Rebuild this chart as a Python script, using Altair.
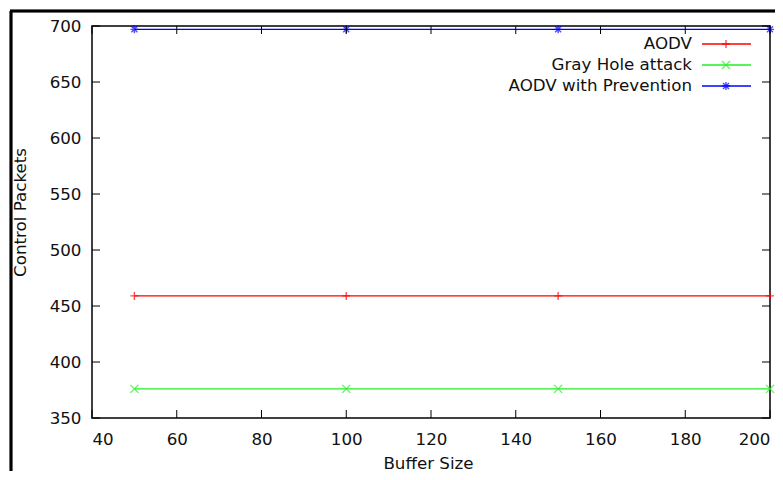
import altair as alt
import pandas as pd

buffer_sizes = [50, 100, 150, 200]
series_names = ["AODV", "Gray Hole attack", "AODV with Prevention"]
aodv = [459, 459, 459, 459]
gray_hole = [376, 376, 376, 376]
prevention = [697, 697, 697, 697]

x_ticks = [40, 60, 80, 100, 120, 140, 160, 180, 200]
y_ticks = [350, 400, 450, 500, 550, 600, 650, 700]

colors = ["#ff0000", "#22ee22", "#0000ff"]
shapes = [
    "M-1,0L1,0M0,-1L0,1",
    "M-1,-1L1,1M-1,1L1,-1",
    "M-1,0L1,0M0,-1L0,1M-0.75,-0.75L0.75,0.75M-0.75,0.75L0.75,-0.75",
]

W, H = 678, 392
PAD_B = 53
PAD_R = 5
FONT = "DejaVu Sans"
FS = 16.7

rows = []
for name, vals in zip(series_names, [aodv, gray_hole, prevention]):
    for b, v in zip(buffer_sizes, vals):
        rows.append({"Buffer Size": b, "Control Packets": v, "series": name})
df = pd.DataFrame(rows)

color_scale = alt.Scale(domain=series_names, range=colors)
shape_scale = alt.Scale(domain=series_names, range=shapes)

xs = alt.Scale(domain=[40, 200], nice=False, zero=False)
ys = alt.Scale(domain=[350, 700], nice=False, zero=False)

base = alt.Chart(df).encode(
    x=alt.X("Buffer Size:Q", scale=xs,
            axis=alt.Axis(values=x_ticks, title="Buffer Size", titleX=W / 2 - 3, titleY=45,
                          titleBaseline="middle", labelPadding=13, ticks=False, tickSize=0,
                          domain=False, grid=False)),
    y=alt.Y("Control Packets:Q", scale=ys,
            axis=alt.Axis(values=y_ticks, title="Control Packets", titleX=-72, titleY=H / 2 - 10,
                          titleBaseline="middle", titleAngle=-90, labelPadding=11, ticks=False,
                          tickSize=0, domain=False, grid=False)),
    color=alt.Color("series:N", scale=color_scale, legend=None),
)

lines = base.mark_line(strokeWidth=1.4)
points = base.mark_point(filled=False, size=64, strokeWidth=1.4).encode(
    shape=alt.Shape("series:N", scale=shape_scale, legend=None)
)

# inward ticks (gnuplot style), mirrored on top/right
xt = pd.DataFrame({"v": x_ticks})
yt = pd.DataFrame({"v": y_ticks})
xtick_b = alt.Chart(xt).mark_rule(color="black", strokeWidth=1).encode(
    x=alt.X("v:Q", scale=xs), y=alt.value(H), y2=alt.value(H - 8))
xtick_t = alt.Chart(xt).mark_rule(color="black", strokeWidth=1).encode(
    x=alt.X("v:Q", scale=xs), y=alt.value(0), y2=alt.value(8))
ytick_l = alt.Chart(yt).mark_rule(color="black", strokeWidth=1).encode(
    y=alt.Y("v:Q", scale=ys), x=alt.value(0), x2=alt.value(8))
ytick_r = alt.Chart(yt).mark_rule(color="black", strokeWidth=1).encode(
    y=alt.Y("v:Q", scale=ys), x=alt.value(W), x2=alt.value(W - 8))

# manual gnuplot-style key
leg = pd.DataFrame({"series": series_names,
                    "py": [18 + 21 * i for i in range(len(series_names))]})
leg_text = alt.Chart(leg).mark_text(align="right", baseline="middle", font=FONT, fontSize=FS,
                                    color="#111111").encode(
    x=alt.value(600), y=alt.Y("py:Q", scale=None), text="series:N")
leg_line = alt.Chart(leg).mark_rule(strokeWidth=1.4).encode(
    x=alt.value(610), x2=alt.value(659), y=alt.Y("py:Q", scale=None),
    color=alt.Color("series:N", scale=color_scale, legend=None))
leg_pt = alt.Chart(leg).mark_point(filled=False, size=64, strokeWidth=1.4).encode(
    x=alt.value(634), y=alt.Y("py:Q", scale=None),
    color=alt.Color("series:N", scale=color_scale, legend=None),
    shape=alt.Shape("series:N", scale=shape_scale, legend=None))

# outer image frame
frame_l = alt.Chart(leg).mark_rule(color="black", strokeWidth=2.5).encode(
    x=alt.value(-81), y=alt.value(-15), y2=alt.value(H + PAD_B))
frame_t = alt.Chart(leg).mark_rule(color="black", strokeWidth=2.5).encode(
    x=alt.value(-82), x2=alt.value(W + PAD_R), y=alt.value(-15))

chart = alt.layer(
    lines, points, xtick_b, xtick_t, ytick_l, ytick_r, leg_line, leg_pt, leg_text, frame_l, frame_t
).properties(
    width=W, height=H,
    padding={"left": 84, "top": 18, "right": PAD_R, "bottom": PAD_B},
    autosize=alt.AutoSizeParams(type="none"),
).configure_view(
    stroke="black", strokeWidth=1.5
).configure_axis(
    labelFont=FONT, titleFont=FONT, labelFontSize=FS, titleFontSize=FS,
    labelColor="#111111", titleColor="#111111", titleFontWeight="normal",
)

chart.save("out.html", embed_options={"renderer": "svg", "actions": False})
